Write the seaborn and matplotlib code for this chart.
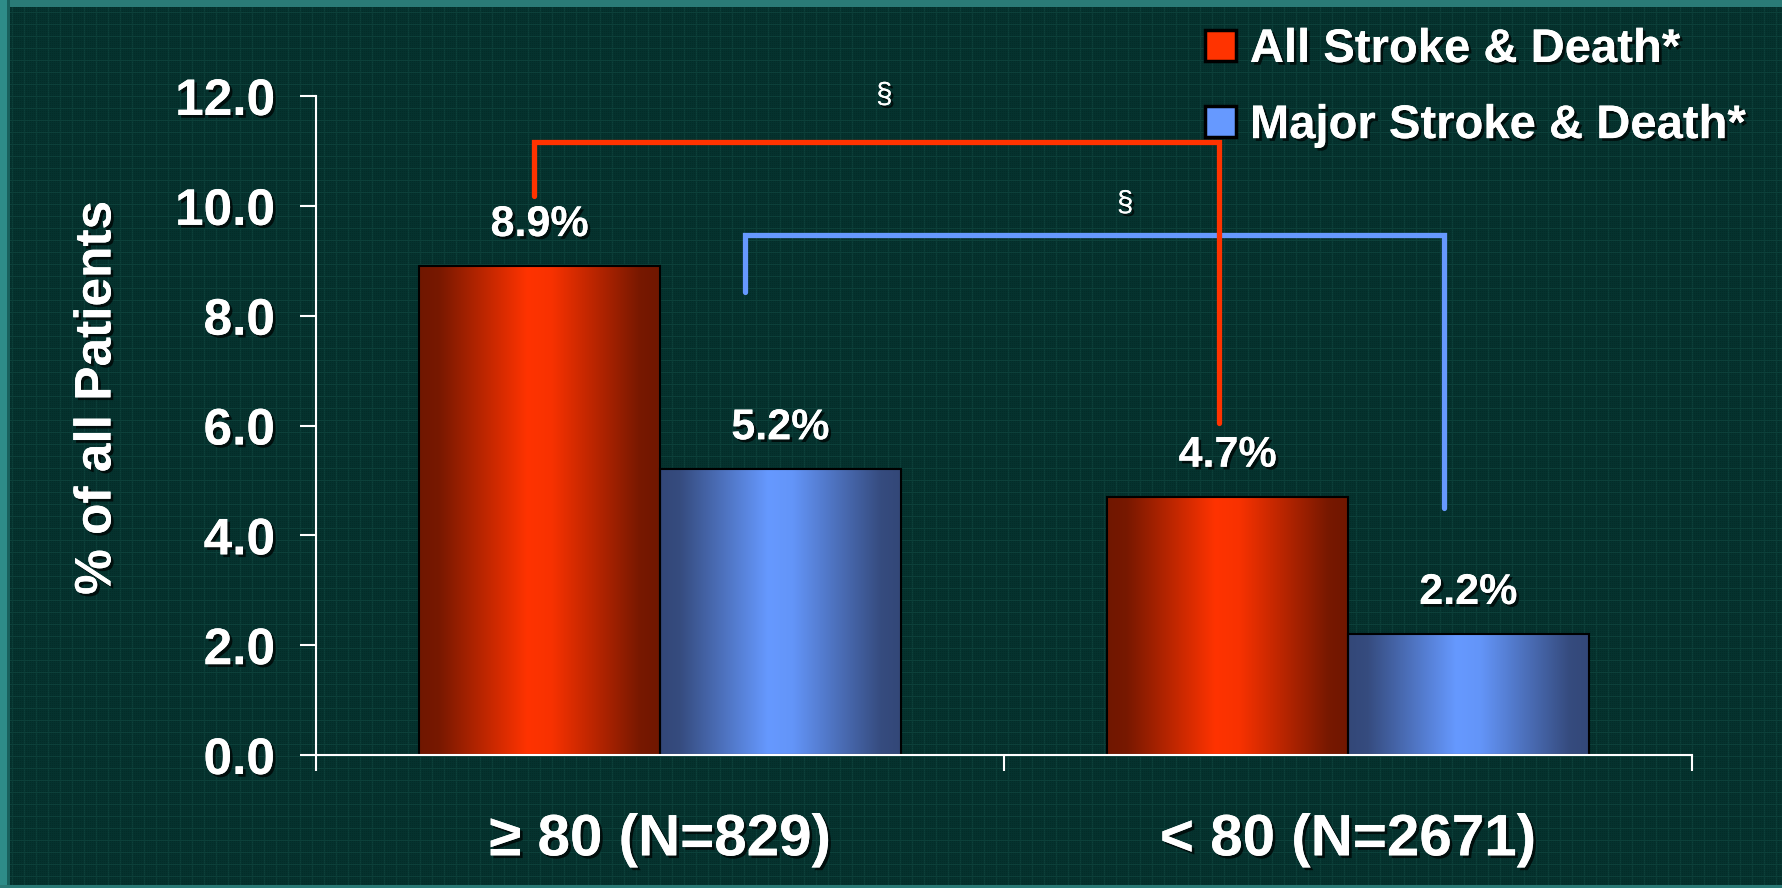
import numpy as np
import pandas as pd
import matplotlib
matplotlib.use("Agg")
import matplotlib.pyplot as plt
import matplotlib.patheffects as pe
from matplotlib.patches import Patch
import seaborn as sns

# data
groups = ["\u2265 80 (N=829)", "< 80 (N=2671)"]
series = ["All Stroke & Death*", "Major Stroke & Death*"]
all_stroke = [8.9, 4.7]
major_stroke = [5.2, 2.2]
y_ticks = [0, 2, 4, 6, 8, 10, 12]

# significance brackets: (x left, x right, y top, y left leg end, y right leg end)
red_bracket = (-0.183, 0.8125, 11.16, 10.17, 6.04)
blue_bracket = (0.124, 1.14, 9.47, 8.44, 4.49)
sig_marks = [(0.326, 12.02), (0.676, 10.05)]

sns.set_style("dark")
plt.rcParams['font.family'] = ['Liberation Sans', 'DejaVu Sans']
plt.rcParams['font.weight'] = 'bold'

W, H = 1782, 888
fig = plt.figure(figsize=(W / 100, H / 100), dpi=100)

# textured teal background
bg = np.zeros((H, W, 3))
bg[:, :] = np.array([5, 50, 46]) / 255
bg[::12, :] = np.array([12, 64, 58]) / 255
bg[:, ::12] = np.array([12, 64, 58]) / 255
bg[1::2, ::2] *= 0.88
bg[:7, :] = np.array([42, 122, 118]) / 255
bg[:, :7] = np.array([46, 140, 136]) / 255
bg[:, 7:10] = np.array([24, 96, 92]) / 255
bg[-3:, :] = np.array([42, 122, 118]) / 255
fig.figimage(bg, xo=0, yo=0, origin='upper', zorder=-10)

ax = fig.add_axes([316 / W, 1 - 755 / H, (1692 - 316) / W, (755 - 96) / H])
ax.set_facecolor('none')

df = pd.DataFrame({
    "group": groups * 2,
    "series": [series[0]] * 2 + [series[1]] * 2,
    "value": all_stroke + major_stroke,
})

red_mid = "#ff3300"
blue_mid = "#6699ff"
sns.barplot(data=df, x="group", y="value", hue="series", hue_order=series,
            palette=[red_mid, blue_mid], width=0.7, gap=0, dodge=True,
            edgecolor="black", linewidth=1.5, legend=False, ax=ax, zorder=2)

# horizontal shading on the bars
t = np.linspace(0, 1, 256)
w = np.interp(t, [0, 0.08, 0.45, 0.55, 0.92, 1], [0.0, 0.05, 1.0, 0.95, 0.05, 0.0])
shades = [
    (np.array([0.44, 0.09, 0.0]), np.array([1.0, 0.2, 0.0])),
    (np.array([0.20, 0.28, 0.47]), np.array([0.4, 0.6, 1.0])),
]
for cont, (dark, bright) in zip(ax.containers, shades):
    grad = dark[None, :] + w[:, None] * (bright - dark)[None, :]
    grad = grad[None, :, :]
    for p in cont.patches:
        x0, wd, h = p.get_x(), p.get_width(), p.get_height()
        im = ax.imshow(grad, extent=[x0, x0 + wd, 0, h], aspect='auto',
                       zorder=1.9, interpolation='bilinear')
        im.set_clip_path(p)
        p.set_facecolor('none')
        ax.text(x0 + wd / 2, h + 0.75, f"{h:.1f}%", ha='center', va='center',
                color='white', fontsize=31, fontweight='bold', zorder=5)

ax.set_xlim(-0.5, 1.5)
ax.set_ylim(0, 12)
ax.set_yticks(y_ticks)
ax.set_yticklabels([f"{v:.1f}" for v in y_ticks])
ax.set_xticks([-0.5, 0.5, 1.5], minor=True)
ax.set_xlabel("")
ax.set_ylabel("")
ax.grid(False)

for s in ["top", "right"]:
    ax.spines[s].set_visible(False)
for s in ["left", "bottom"]:
    ax.spines[s].set_visible(True)
    ax.spines[s].set_color("white")
    ax.spines[s].set_linewidth(1.5)

ax.tick_params(axis='y', which='major', direction='out', length=11.5, width=1.5,
               color='white', labelcolor='white', labelsize=37, pad=18, left=True)
ax.tick_params(axis='x', which='major', length=0, labelcolor='white', labelsize=42, pad=42)
ax.tick_params(axis='x', which='minor', direction='out', length=11.5, width=1.5,
               color='white', bottom=True)
for lab in ax.get_xticklabels() + ax.get_yticklabels():
    lab.set_fontweight('bold')

# brackets
for (xl, xr, yt, yl, yr), col in [(blue_bracket, blue_mid), (red_bracket, red_mid)]:
    ax.plot([xl, xl, xr, xr], [yl, yt, yt, yr], color=col, lw=3.8,
            solid_joinstyle='miter', clip_on=False, zorder=4)
for x, y in sig_marks:
    ax.text(x, y, "\u00a7", ha='center', va='center', color='white', fontsize=21,
            fontweight='normal', clip_on=False, zorder=5)

fig.text(97 / W, 1 - 398 / H, "% of all Patients", rotation=90, ha='center', va='center',
         color='white', fontsize=37, fontweight='bold')

handles = [Patch(facecolor=red_mid, edgecolor='black', linewidth=2.5),
           Patch(facecolor=blue_mid, edgecolor='black', linewidth=2.5)]
fig.legend(handles, series, loc='upper left', bbox_to_anchor=(1205 / W, 1 - 28 / H),
           frameon=False, labelcolor='white', handlelength=0.65,
           handleheight=0.65, handletextpad=0.3, labelspacing=0.68,
           borderpad=0, borderaxespad=0, prop={'weight': 'bold', 'size': 34})

shadow = [pe.withSimplePatchShadow(offset=(2, -2), shadow_rgbFace='black', alpha=0.7), pe.Normal()]
for txt in fig.findobj(matplotlib.text.Text):
    if txt.get_text():
        txt.set_path_effects(shadow)

fig.savefig("out.png", dpi=100)
